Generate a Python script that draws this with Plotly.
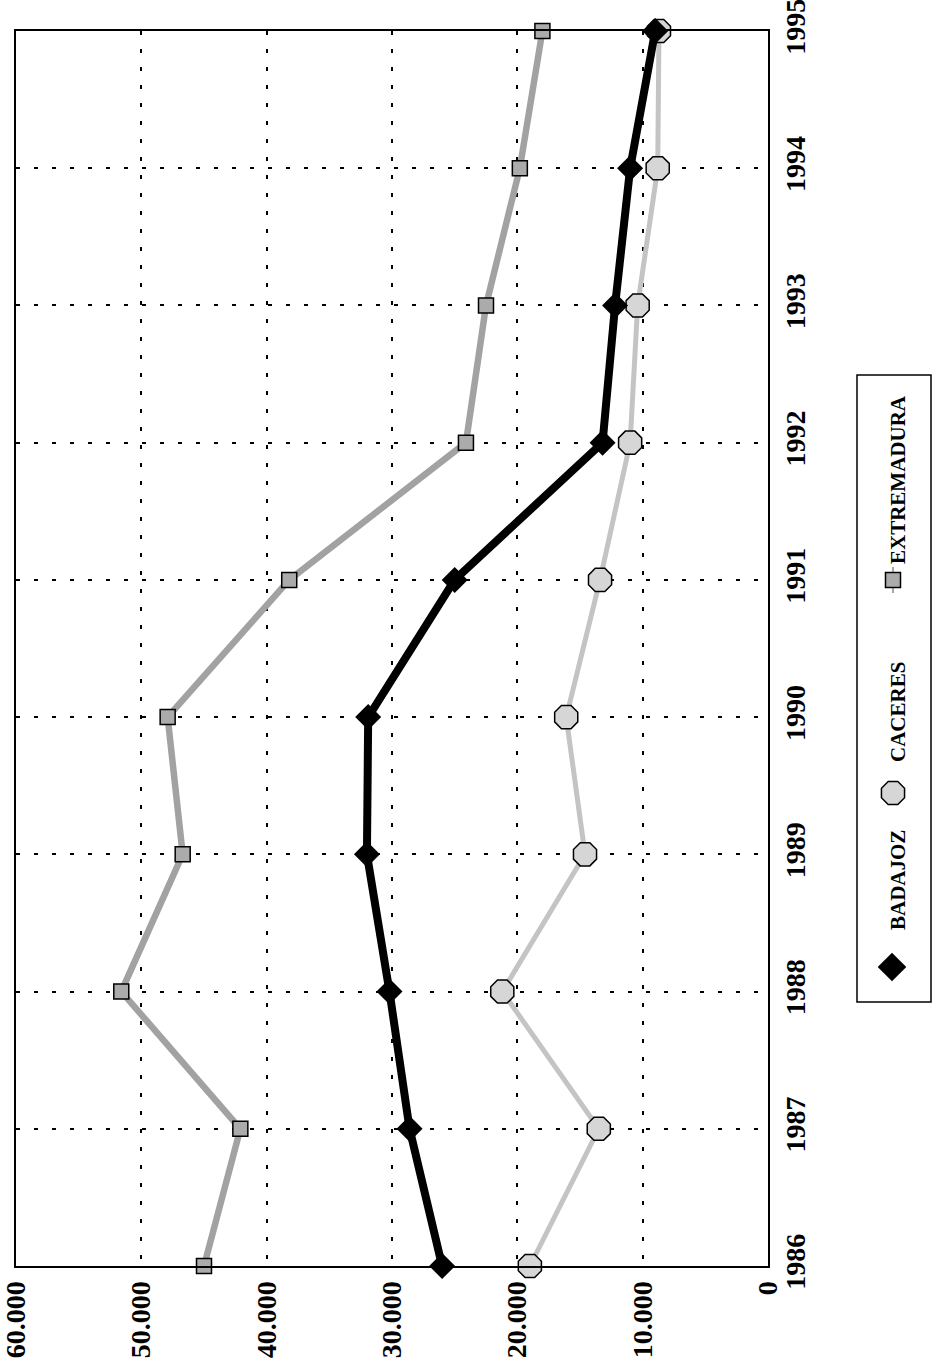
import plotly.graph_objects as go

# ---- data ----
years = [1986, 1987, 1988, 1989, 1990, 1991, 1992, 1993, 1994, 1995]
badajoz = [26000, 28600, 30200, 32000, 31900, 25000, 13200, 12200, 11000, 9000]
caceres = [19000, 13500, 21200, 14600, 16100, 13400, 11000, 10400, 8800, 8700]
extremadura = [45000, 42100, 51600, 46700, 47900, 38200, 24100, 22500, 19800, 18000]

value_ticks = [0, 10000, 20000, 30000, 40000, 50000, 60000]
value_labels = ["0", "10.000", "20.000", "30.000", "40.000", "50.000", "60.000"]
year_labels = [str(y) for y in years]
series_names = ["BADAJOZ", "CACERES", "EXTREMADURA"]

W, H = 933, 1368
# plot frame in pixels
PX0, PX1, PY0, PY1 = 16, 768, 31, 1266
LEG_X0 = 840  # left edge of legend overlay area (pixels)

SERIF = "Liberation Serif"

fig = go.Figure()

fig.add_trace(go.Scatter(
    x=extremadura, y=years, mode="lines+markers", name=series_names[2],
    line=dict(color="#a2a2a2", width=6.5),
    marker=dict(symbol="square", size=15, color="#ababab",
                line=dict(color="black", width=1.5)),
    cliponaxis=False, showlegend=False))

fig.add_trace(go.Scatter(
    x=caceres, y=years, mode="lines+markers", name=series_names[1],
    line=dict(color="#c4c4c4", width=5),
    marker=dict(symbol="octagon", size=25, color="#d6d6d6",
                line=dict(color="black", width=1.5)),
    cliponaxis=False, showlegend=False))

fig.add_trace(go.Scatter(
    x=badajoz, y=years, mode="lines+markers", name=series_names[0],
    line=dict(color="black", width=8),
    marker=dict(symbol="diamond", size=20, color="black"),
    cliponaxis=False, showlegend=False))

# ---- manual rotated legend (layout, on a pixel-space overlay axis) ----
LX = 893
leg_diamond_y, leg_oct_y, leg_sq_y = 967, 793, 580
fig.add_trace(go.Scatter(x=[LX, LX], y=[leg_sq_y - 13, leg_sq_y + 13], mode="lines",
                         line=dict(color="#8a8a8a", width=1.5),
                         xaxis="x2", yaxis="y2", showlegend=False, hoverinfo="skip"))
fig.add_trace(go.Scatter(x=[LX], y=[leg_sq_y], mode="markers",
                         marker=dict(symbol="square", size=15, color="#ababab",
                                     line=dict(color="black", width=1.5)),
                         xaxis="x2", yaxis="y2", showlegend=False, hoverinfo="skip"))
fig.add_trace(go.Scatter(x=[LX], y=[leg_oct_y], mode="markers",
                         marker=dict(symbol="octagon", size=25, color="#d6d6d6",
                                     line=dict(color="black", width=1.5)),
                         xaxis="x2", yaxis="y2", showlegend=False, hoverinfo="skip"))
fig.add_trace(go.Scatter(x=[LX - 1], y=[leg_diamond_y], mode="markers",
                         marker=dict(symbol="diamond", size=22, color="black"),
                         xaxis="x2", yaxis="y2", showlegend=False, hoverinfo="skip"))

legend_text_y = [880, 712, 480]
for name, ty in zip(series_names, legend_text_y):
    fig.add_annotation(x=898, y=ty, xref="x2", yref="y2", text=name,
                       textangle=-90, showarrow=False,
                       font=dict(family=SERIF, size=21, color="black", weight="bold"))

fig.add_shape(type="rect", xref="x2", yref="y2", x0=857, x1=931, y0=375, y1=1002,
              line=dict(color="black", width=1.5), fillcolor="rgba(0,0,0,0)")

grid_dash = "4px,14px"
fig.update_layout(
    width=W, height=H, autosize=False,
    margin=dict(l=0, r=0, t=0, b=0, pad=0, autoexpand=False),
    paper_bgcolor="white", plot_bgcolor="rgba(0,0,0,0)",
    showlegend=False,
    xaxis=dict(
        domain=[PX0 / W, PX1 / W], range=[60000, 0], automargin=False,
        tickvals=value_ticks, ticktext=value_labels, tickangle=-90,
        tickfont=dict(family=SERIF, size=28, color="black", weight="bold"),
        ticklabeloverflow="allow",
        showgrid=True, gridcolor="black", gridwidth=1.5, griddash=grid_dash,
        showline=True, mirror=True, linecolor="black", linewidth=2,
        zeroline=False, ticks="", ticklabelstandoff=2, anchor="y",
    ),
    yaxis=dict(
        domain=[1 - PY1 / H, 1 - PY0 / H], range=[1986, 1995],
        side="right", automargin=False,
        tickvals=years, ticktext=year_labels, tickangle=-90,
        tickfont=dict(family=SERIF, size=28, color="black", weight="bold"),
        ticklabeloverflow="allow",
        showgrid=True, gridcolor="black", gridwidth=1.5, griddash=grid_dash,
        showline=True, mirror=True, linecolor="black", linewidth=2,
        zeroline=False, ticks="", ticklabelstandoff=1, anchor="x",
    ),
    xaxis2=dict(domain=[LEG_X0 / W, 1], range=[LEG_X0, W], visible=False,
                anchor="y2", fixedrange=True, automargin=False),
    yaxis2=dict(domain=[0, 1], range=[H, 0], visible=False, anchor="x2",
                fixedrange=True, automargin=False),
)

fig.write_html("out.html",
               config={"displayModeBar": False},
               post_script="document.body.style.margin='0';document.body.style.overflow='hidden';")
